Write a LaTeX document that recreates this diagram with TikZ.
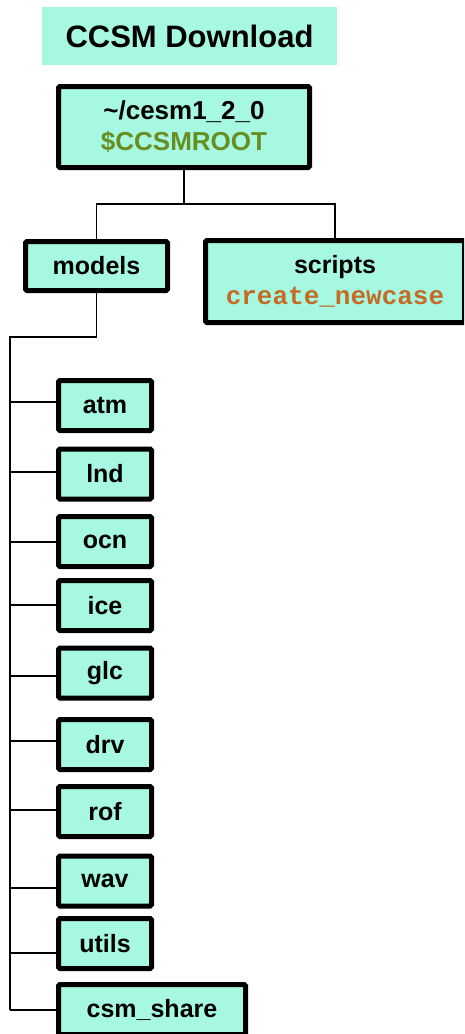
\documentclass[tikz,border=0pt]{standalone}
\usepackage{fontspec}
\setmainfont{Liberation Sans}
\newfontfamily\monofnt{Liberation Mono}
\definecolor{boxfill}{RGB}{166,248,225}
\definecolor{rootgreen}{RGB}{104,142,34}
\definecolor{scriptorange}{RGB}{196,108,38}
\tikzset{
  dirbox/.style={draw=black, line width=5pt, rounded corners=1.5pt, fill=boxfill,
    inner sep=0pt, font=\fontsize{25}{30}\selectfont\bfseries},
  childbox/.style={dirbox, minimum width=93pt, minimum height=50pt},
  link/.style={draw=black, line width=1.6pt},
}
\begin{document}
\begin{tikzpicture}[x=1pt,y=-1pt]
\useasboundingbox (0,0) rectangle (464,1034);
\clip (0,0) rectangle (464,1034);
% title
\node[fill=boxfill, minimum width=295pt, minimum height=58pt, inner sep=0pt,
  font=\fontsize{31}{36}\selectfont\bfseries] (title) at (189.5,36) {CCSM Download};
% root
\node[dirbox, minimum width=251pt, minimum height=81pt, align=center,
  font=\fontsize{26}{31}\selectfont\bfseries] (root) at (184,127)
  {\char`\~/cesm1\_2\_0\\\textcolor{rootgreen}{\$CCSMROOT}};
% level 1
\node[dirbox, minimum width=142pt, minimum height=49pt] (models) at (96.5,266) {models};
\node[dirbox, minimum width=259pt, minimum height=82pt, align=center,
  font=\fontsize{25}{33}\selectfont\bfseries] (scripts) at (335,281.5)
  {\raisebox{-3pt}{scripts}\\[1pt]{\monofnt\fontsize{26}{30}\selectfont\bfseries\textcolor{scriptorange}{create\_newcase}}};
\coordinate (j) at (184,204);
\draw[link] (root.south) -- (j);
\draw[link] (models.north) |- (j) -| (scripts.north);
% children
\node[childbox] (atm) at (105,405.5) {atm};
\node[childbox] (lnd) at (105,474) {lnd};
\node[childbox] (ocn) at (105,541.5) {ocn};
\node[childbox] (ice) at (105,605.5) {ice};
\node[childbox] (glc) at (105,673) {glc};
\node[childbox] (drv) at (105,744.5) {drv};
\node[childbox] (rof) at (105,811.5) {rof};
\node[childbox] (wav) at (105,881) {wav};
\node[childbox] (utils) at (105,943.5) {utils};
\node[dirbox, minimum width=187pt, minimum height=50pt] (csm) at (152,1009.5) {csm\_share};
% trunk
\coordinate (mt) at (10,337);
\coordinate (b1) at (10,402);
\coordinate (b2) at (10,472);
\coordinate (b3) at (10,542);
\coordinate (b4) at (10,605);
\coordinate (b5) at (10,676);
\coordinate (b6) at (10,741);
\coordinate (b7) at (10,810);
\coordinate (b8) at (10,888);
\coordinate (b9) at (10,953);
\coordinate (b10) at (10,1010);
\draw[link] (models.south) |- (mt) -- (b10);
\draw[link] (b1) -- (b1 -| atm.west);
\draw[link] (b2) -- (b2 -| lnd.west);
\draw[link] (b3) -- (b3 -| ocn.west);
\draw[link] (b4) -- (b4 -| ice.west);
\draw[link] (b5) -- (b5 -| glc.west);
\draw[link] (b6) -- (b6 -| drv.west);
\draw[link] (b7) -- (b7 -| rof.west);
\draw[link] (b8) -- (b8 -| wav.west);
\draw[link] (b9) -- (b9 -| utils.west);
\draw[link] (b10) -- (b10 -| csm.west);
\end{tikzpicture}
\end{document}
